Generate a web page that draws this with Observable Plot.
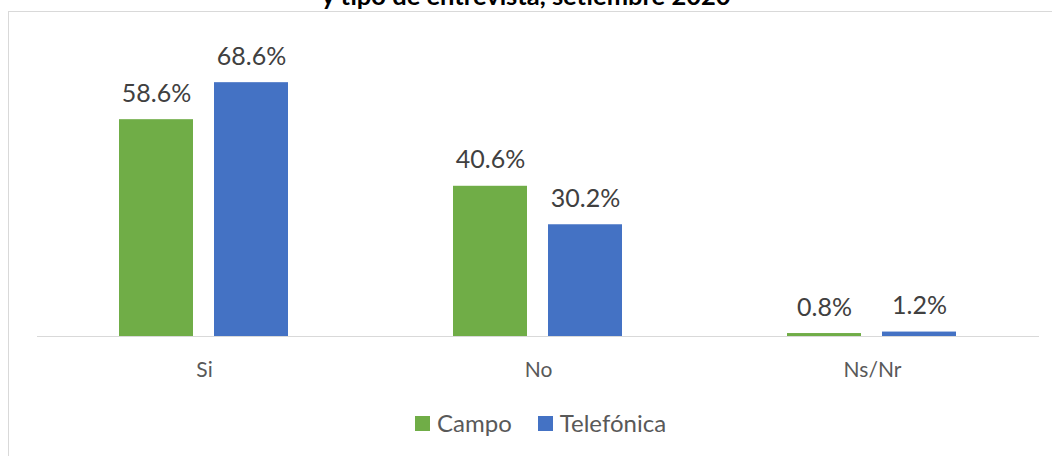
<!DOCTYPE html>
<html>
<head>
<meta charset="utf-8">
<script src="https://cdn.jsdelivr.net/npm/d3@7"></script>
<script src="https://cdn.jsdelivr.net/npm/@observablehq/plot@0.6"></script>
<style>
  html, body { margin: 0; padding: 0; background: #fff; }
  body { width: 1052px; height: 456px; overflow: hidden; position: relative; font-family: Lato, "Open Sans", sans-serif; }
  #title { position: absolute; left: 0; width: 1052px; text-align: center; top: -18px; line-height: 26px; font-size: 25.5px; font-weight: 700; color: #000; white-space: nowrap; }
  #frame { position: absolute; left: 8px; top: 11px; width: 1100px; height: 500px; border-top: 1px solid #d9d9d9; border-left: 1px solid #d9d9d9; }
  #chart { position: absolute; left: 0; top: 0; }
  #legend { position: absolute; left: 415px; top: 409px; display: flex; align-items: center; font-size: 24px; color: #595959; line-height: 28px; }
  .sw { width: 15px; height: 15px; display: inline-block; margin-right: 7px; }
  .item { display: flex; align-items: center; margin-right: 26px; }
</style>
</head>
<body>
<div id="title">y tipo de entrevista, setiembre 2020</div>
<div id="frame"></div>
<div id="chart"></div>
<div id="legend"></div>
<script>
const categories = ["Si", "No", "Ns/Nr"];
const series = ["Campo", "Telefónica"];
const campo = [58.6, 40.6, 0.8];
const telefonica = [68.6, 30.2, 1.2];
const colors = ["#70AD47", "#4472C4"];

const data = categories.flatMap((c, i) => [
  {cat: c, serie: series[0], value: campo[i]},
  {cat: c, serie: series[1], value: telefonica[i]}
]);

const chart = Plot.plot({
  width: 1052,
  height: 390,
  marginLeft: 37,
  marginRight: 13,
  marginTop: 40,
  marginBottom: 54,
  style: {fontFamily: "Lato, 'Open Sans', sans-serif", background: "transparent", overflow: "visible"},
  fx: {domain: categories, padding: 0, axis: null, label: null},
  x: {domain: series, paddingInner: 0.221, paddingOuter: 0.868, axis: null},
  y: {domain: [0, 80], axis: null},
  color: {domain: series, range: colors},
  marks: [
    Plot.barY(data, {fx: "cat", x: "serie", y: "value", fill: "serie"}),
    Plot.ruleY([0], {stroke: "#d9d9d9", strokeWidth: 1}),
    Plot.text(data, {fx: "cat", x: "serie", y: "value", text: d => d.value.toFixed(1) + "%", dy: -26, fontSize: 25, fill: "#404040", lineAnchor: "middle"}),
    Plot.text(categories, {fx: d => d, text: d => d, frameAnchor: "bottom", dy: 34, fontSize: 21, fill: "#595959", lineAnchor: "middle"})
  ]
});
document.getElementById("chart").appendChild(chart);

const legend = document.getElementById("legend");
series.forEach((s, i) => {
  const item = document.createElement("div");
  item.className = "item";
  const sw = document.createElement("span");
  sw.className = "sw";
  sw.style.background = colors[i];
  const t = document.createElement("span");
  t.textContent = s;
  item.appendChild(sw);
  item.appendChild(t);
  legend.appendChild(item);
});
</script>
</body>
</html>
